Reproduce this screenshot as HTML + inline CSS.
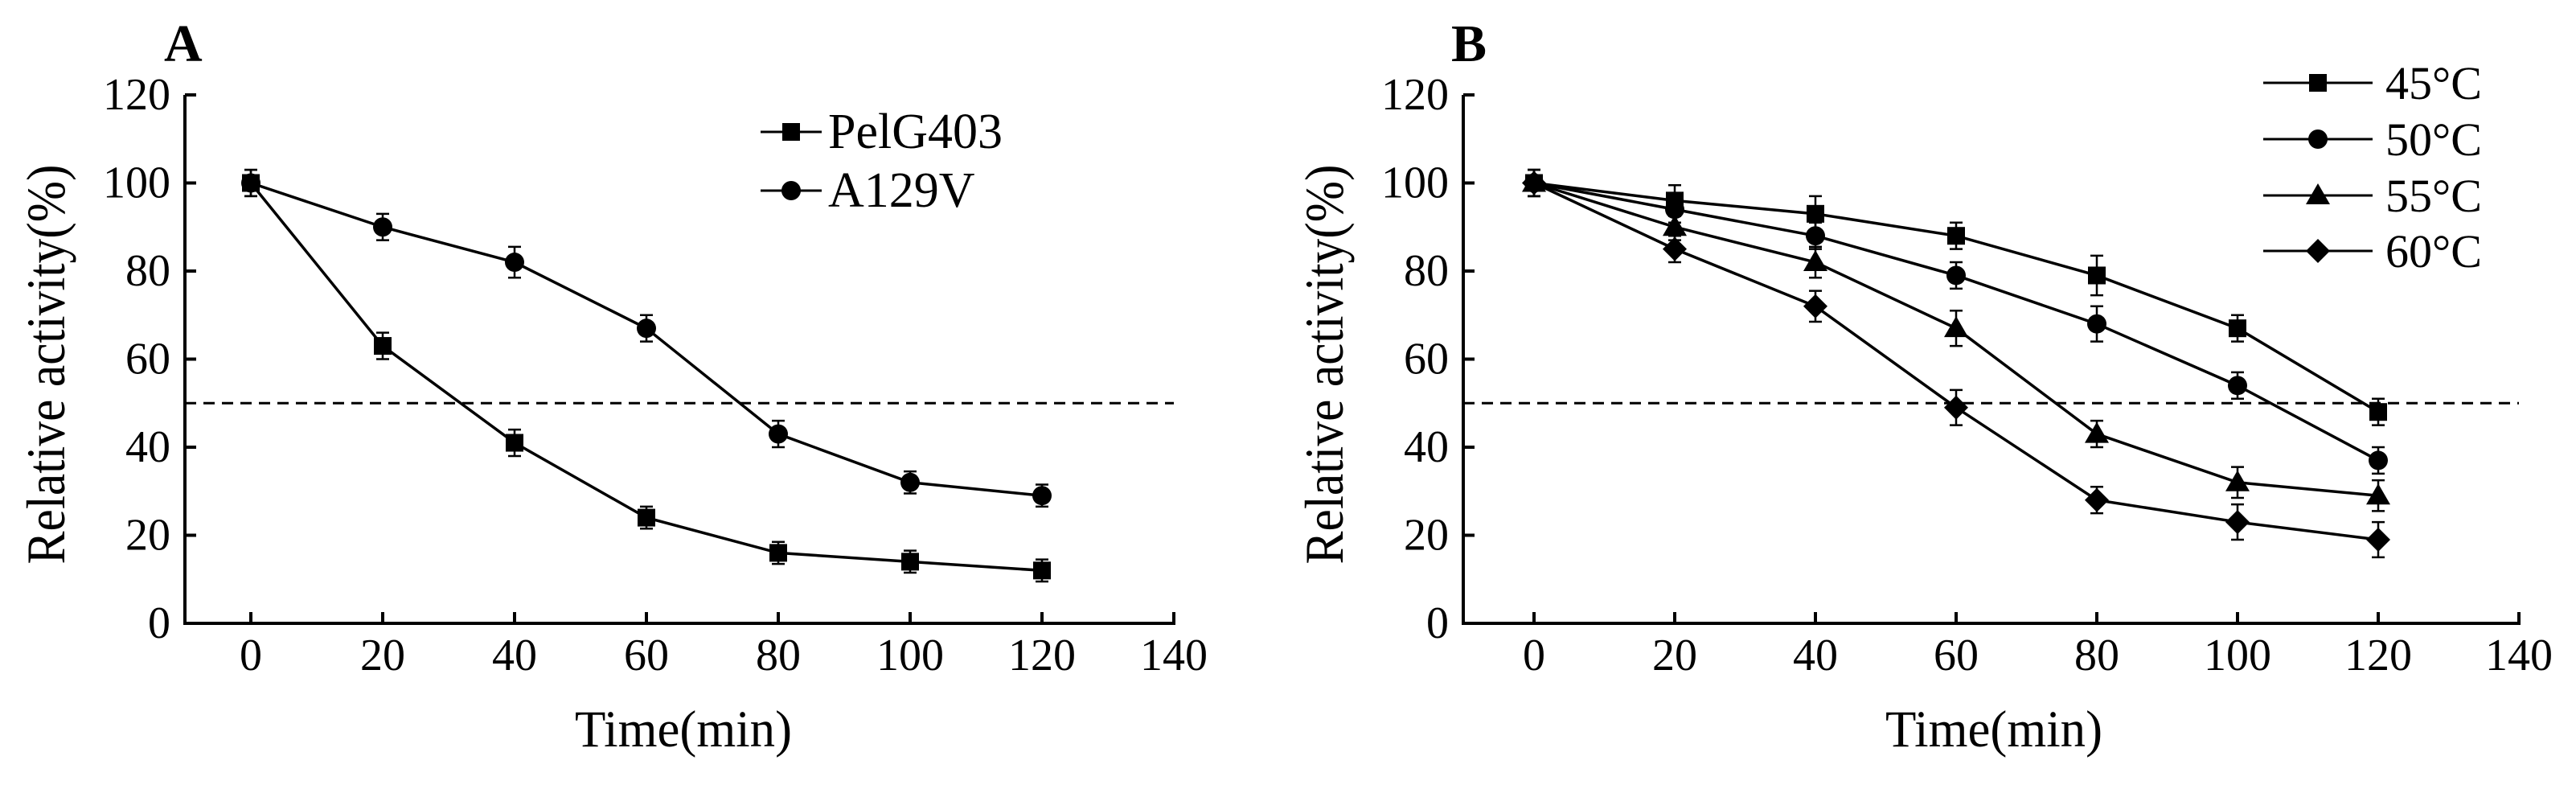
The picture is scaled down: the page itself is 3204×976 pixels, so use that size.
<!DOCTYPE html>
<html><head><meta charset="utf-8"><style>
html,body{margin:0;padding:0;background:#fff;}
svg{display:block;}
text{font-family:"Liberation Serif","Times New Roman",serif;}
</style></head><body>
<svg id="chart" width="3204" height="976" viewBox="0 0 3204 976" xmlns="http://www.w3.org/2000/svg" font-family="Liberation Serif, serif"></svg>
<script>
const timesMin = [0,20,40,60,80,100,120];
const xTicks = [0,20,40,60,80,100,120,140];
const yTicks = [0,20,40,60,80,100,120];
const pelG403 = [100,63,41,24,16,14,12];
const pelG403Err = [3,3,3,2.5,2.5,2.5,2.5];
const a129v = [100,90,82,67,43,32,29];
const a129vErr = [3,3,3.5,3,3,2.5,2.5];
const t45 = [100,96,93,88,79,67,48];
const t45Err = [3,3.5,4,3,4.5,3,3];
const t50 = [100,94,88,79,68,54,37];
const t50Err = [3,3,3,3,4,3,3];
const t55 = [100,90,82,67,43,32,29];
const t55Err = [3,3,3.5,4,3,3.5,3.5];
const t60 = [100,85,72,49,28,23,19];
const t60Err = [3,3,3.5,4,3,4,4];
const halfLine = 50;

const NS="http://www.w3.org/2000/svg";
const svg=document.getElementById('chart');
const FF='"Liberation Serif", serif';
function mk(tag,attrs,parent){const e=document.createElementNS(NS,tag);for(const k in attrs)e.setAttribute(k,attrs[k]);if(tag==='text'){e.setAttribute('font-family','Liberation Serif');e.style.fontFamily=FF;}(parent||svg).appendChild(e);return e;}

function marker(g,shape,cx,cy){
  let e;
  if(shape==='square') e=mk('rect',{x:cx-11,y:cy-11,width:22,height:22,fill:'#000'},g);
  else if(shape==='circle') e=mk('circle',{cx:cx,cy:cy,r:12,fill:'#000'},g);
  else if(shape==='triangle') e=mk('polygon',{points:`${cx},${cy-15} ${cx+15},${cy+11} ${cx-15},${cy+11}`,fill:'#000'},g);
  else e=mk('polygon',{points:`${cx},${cy-15} ${cx+15},${cy} ${cx},${cy+15} ${cx-15},${cy}`,fill:'#000'},g);
  return e;
}

function panel(cfg){
  const g=mk('g',{});
  
  
  const X0=cfg.axisX, Y0=775, Ytop=118;
  const xs=v=>cfg.zeroX+v*cfg.kx;
  const ys=v=>Y0-(v/120)*(Y0-Ytop);
  const xEnd=xs(140);
  const ya=mk('line',{x1:X0,y1:Ytop,x2:X0,y2:Y0+2,stroke:'#000','stroke-width':4},g);
  
  
  const xa=mk('line',{x1:X0-2,y1:Y0,x2:xEnd+2,y2:Y0,stroke:'#000','stroke-width':4},g);
  
  
  yTicks.forEach(t=>{
    const y=ys(t);
    mk('line',{x1:X0,y1:y,x2:X0+14,y2:y,stroke:'#000','stroke-width':4},g);
    const tx=mk('text',{x:X0-18,y:y+18,'text-anchor':'end','font-size':56},g);
    tx.textContent=t;
    
    
  });
  xTicks.forEach(t=>{
    const x=xs(t);
    mk('line',{x1:x,y1:Y0,x2:x,y2:Y0-14,stroke:'#000','stroke-width':4},g);
    const tx=mk('text',{x:x,y:833,'text-anchor':'middle','font-size':56},g);
    tx.textContent=t;
    
    
  });
  const dl=mk('line',{x1:X0,y1:ys(halfLine),x2:xEnd,y2:ys(halfLine),stroke:'#000','stroke-width':3,'stroke-dasharray':'14,9'},g);
  
  
  const xt=mk('text',{x:cfg.xTitleX,y:928,'text-anchor':'middle','font-size':65,textLength:270,lengthAdjust:'spacingAndGlyphs'},g);
  xt.textContent='Time(min)';
  
  
  const yt=mk('text',{x:0,y:0,'text-anchor':'middle','font-size':68,textLength:497,lengthAdjust:'spacingAndGlyphs',transform:`translate(${cfg.yTitleX},453) rotate(-90)`},g);
  yt.textContent='Relative activity(%)';
  
  
  const pl=mk('text',{x:cfg.labelX,y:76,'font-size':66,'font-weight':'bold'},g);
  pl.textContent=cfg.label;
  
  
  cfg.series.forEach(s=>{
    const sg=mk('g',{},g);
    
    
    const pts=timesMin.map((t,i)=>xs(t)+','+ys(s.vals[i])).join(' ');
    mk('polyline',{points:pts,fill:'none',stroke:'#000','stroke-width':3.5},sg);
    timesMin.forEach((t,i)=>{
      const x=xs(t),yv=ys(s.vals[i]),yh=ys(s.vals[i]+s.err[i]),yl=ys(s.vals[i]-s.err[i]);
      const eb=mk('path',{d:`M${x},${yh}V${yl}M${x-8},${yh}H${x+8}M${x-8},${yl}H${x+8}`,stroke:'#000','stroke-width':2.5,fill:'none'},sg);
      
      
      const m=marker(sg,s.shape,x,yv);
      
      
    });
  });
  cfg.series.forEach((s,i)=>{
    const ly=cfg.legY[i];
    const lg=mk('g',{},g);
    
    
    mk('line',{x1:cfg.legX1,y1:ly,x2:cfg.legX2,y2:ly,stroke:'#000','stroke-width':3},lg);
    marker(lg,s.shape,(cfg.legX1+cfg.legX2)/2,ly);
    const t=mk('text',{x:cfg.legTextX,y:ly+20,'font-size':cfg.legFont},lg);
    t.textContent=s.name;
  });
}

panel({name:'panel-a',label:'A',labelX:204,axisX:230,zeroX:312,kx:8.2,xTitleX:850,yTitleX:80,
  legX1:946,legX2:1022,legTextX:1030,legY:[164,237],legFont:62,
  series:[{key:'pelg403',name:'PelG403',vals:pelG403,err:pelG403Err,shape:'square'},
          {key:'a129v',name:'A129V',vals:a129v,err:a129vErr,shape:'circle'}]});
panel({name:'panel-b',label:'B',labelX:1805,axisX:1820,zeroX:1908,kx:8.75,xTitleX:2480,yTitleX:1670,
  legX1:2815,legX2:2951,legTextX:2967,legY:[103,173,243,312],legFont:58,
  series:[{key:'45c',name:'45°C',vals:t45,err:t45Err,shape:'square'},
          {key:'50c',name:'50°C',vals:t50,err:t50Err,shape:'circle'},
          {key:'55c',name:'55°C',vals:t55,err:t55Err,shape:'triangle'},
          {key:'60c',name:'60°C',vals:t60,err:t60Err,shape:'diamond'}]});
</script>
</body></html>
